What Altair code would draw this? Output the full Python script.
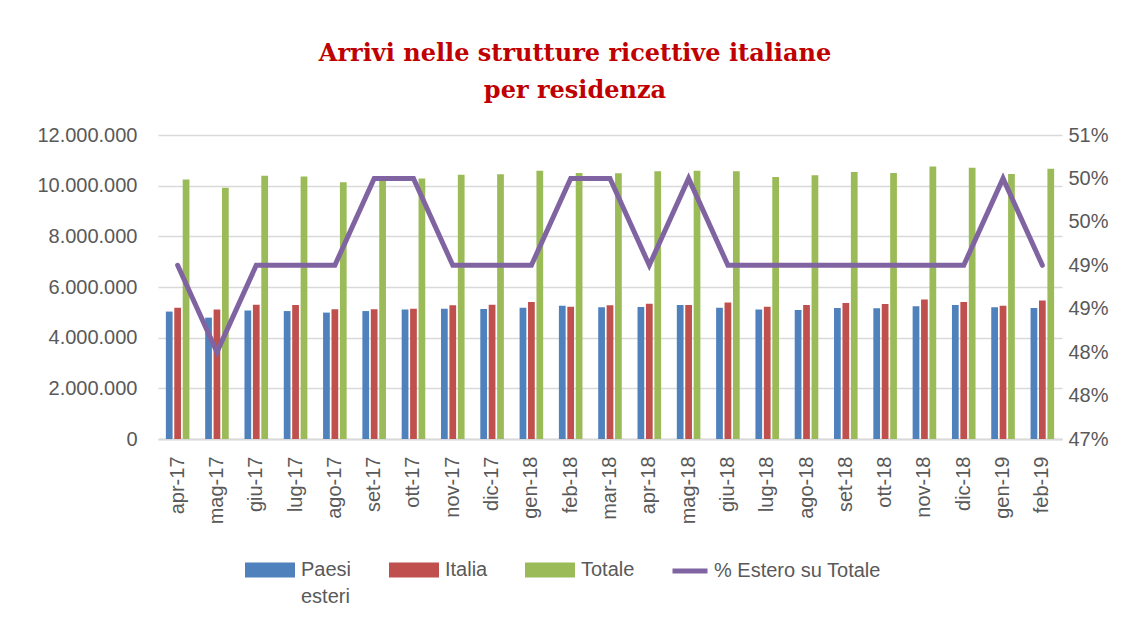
import altair as alt
import pandas as pd

months = ["apr-17", "mag-17", "giu-17", "lug-17", "ago-17", "set-17", "ott-17", "nov-17",
          "dic-17", "gen-18", "feb-18", "mar-18", "apr-18", "mag-18", "giu-18", "lug-18",
          "ago-18", "set-18", "ott-18", "nov-18", "dic-18", "gen-19", "feb-19"]

paesi_esteri = [5030000, 4790000, 5070000, 5050000, 4990000, 5050000, 5110000, 5140000,
                5130000, 5180000, 5260000, 5200000, 5210000, 5290000, 5180000, 5110000,
                5090000, 5170000, 5160000, 5240000, 5290000, 5200000, 5170000]
italia = [5180000, 5110000, 5300000, 5290000, 5120000, 5120000, 5140000, 5280000,
          5300000, 5410000, 5220000, 5280000, 5340000, 5290000, 5390000, 5220000,
          5290000, 5370000, 5330000, 5510000, 5410000, 5260000, 5470000]
totale = [10240000, 9920000, 10390000, 10360000, 10130000, 10210000, 10280000, 10430000,
          10450000, 10590000, 10500000, 10490000, 10570000, 10590000, 10570000, 10340000,
          10410000, 10540000, 10500000, 10760000, 10710000, 10460000, 10670000]
pct_estero = [0.49, 0.48, 0.49, 0.49, 0.49, 0.50, 0.50, 0.49, 0.49, 0.49, 0.50, 0.50,
              0.49, 0.50, 0.49, 0.49, 0.49, 0.49, 0.49, 0.49, 0.49, 0.50, 0.49]

series = ["Paesi esteri", "Italia", "Totale"]
series_colors = ["#4F81BD", "#C0504D", "#9BBB59"]
line_label = "%  Estero su Totale"
line_color = "#8064A2"

left_ticks = [0, 2000000, 4000000, 6000000, 8000000, 10000000, 12000000]
pct_ticks = [0.47, 0.475, 0.48, 0.485, 0.49, 0.495, 0.50, 0.505]

title_lines = ["Arrivi nelle strutture ricettive italiane", "per residenza"]

rows = []
for i, m in enumerate(months):
    for s, vals in zip(series, [paesi_esteri, italia, totale]):
        rows.append({"mese": m, "serie": s, "valore": vals[i]})
bars_df = pd.DataFrame(rows)
line_df = pd.DataFrame({"mese": months, "pct": pct_estero, "etichetta": [line_label] * len(months)})

FONT = "Liberation Sans"
GREY = "#595959"

x_enc = alt.X("mese:N", sort=months, title=None,
              scale=alt.Scale(paddingInner=0.4, paddingOuter=0.2),
              axis=alt.Axis(labelAngle=-90, labelFontSize=20, labelFont=FONT, labelColor=GREY,
                            ticks=False, domainColor="#D9D9D9", domainWidth=2,
                            labelPadding=17, grid=False))

bars = alt.Chart(bars_df).mark_bar().encode(
    x=x_enc,
    xOffset=alt.XOffset("serie:N", sort=series, scale=alt.Scale(paddingInner=0.2)),
    y=alt.Y("valore:Q", title=None,
            scale=alt.Scale(domain=[0, 12000000], nice=False),
            axis=alt.Axis(values=left_ticks, labelFontSize=20, labelFont=FONT, labelColor=GREY,
                          ticks=False, domain=False, grid=True, gridColor="#D9D9D9",
                          gridWidth=1.5, labelPadding=21,
                          labelExpr="replace(replace(format(datum.value, ','), ',', '.'), ',', '.')")),
    color=alt.Color("serie:N", sort=series,
                    scale=alt.Scale(domain=series, range=series_colors),
                    legend=alt.Legend(title=None, orient="none", legendX=87, legendY=410,
                                      direction="horizontal", columnPadding=37,
                                      symbolType="M-1,-0.3H1V0.3H-1Z", symbolSize=2500,
                                      symbolStrokeWidth=0, symbolOpacity=1,
                                      labelFontSize=20, labelFont=FONT, labelColor=GREY,
                                      labelOffset=6, labelLimit=400,
                                      labelExpr="datum.label == 'Paesi esteri' ? ['Paesi', 'esteri'] : [datum.label, ' ']")),
)

line = alt.Chart(line_df).mark_line(strokeWidth=5, strokeCap="round", strokeJoin="miter").encode(
    x=alt.X("mese:N", sort=months),
    y=alt.Y("pct:Q", title=None,
            scale=alt.Scale(domain=[0.47, 0.505], nice=False, zero=False),
            axis=alt.Axis(orient="right", values=pct_ticks, labelFontSize=20, labelFont=FONT,
                          labelColor=GREY, ticks=False, domain=False, grid=False,
                          labelPadding=6,
                          labelExpr="ceil(datum.value * 100 - 0.000001) + '%'")),
    stroke=alt.Stroke("etichetta:N", scale=alt.Scale(domain=[line_label], range=[line_color]),
                      legend=alt.Legend(title=None, orient="none", legendX=512, legendY=416,
                                        symbolType="stroke", symbolSize=1225,
                                        symbolStrokeWidth=5,
                                        labelFontSize=20, labelFont=FONT, labelColor=GREY,
                                        labelOffset=4, labelLimit=400)),
)

chart = alt.layer(bars, line).resolve_scale(
    y="independent", color="independent"
).properties(
    width=904,
    height=304,
    autosize=alt.AutoSizeParams(type="none"),
    padding={"left": 150, "top": 127, "right": 62, "bottom": 181},
    background="white",
    title=alt.TitleParams(text=title_lines, font="DejaVu Serif", fontSize=24,
                          fontWeight="bold", color="#C00000", anchor="middle",
                          dx=-35, offset=22, lineHeight=37),
).configure(
    view=alt.ViewConfig(stroke=None),
    style={"guide-label": {"lineHeight": 27}},
)

chart.save("out.html", embed_options={"renderer": "svg", "actions": False})
